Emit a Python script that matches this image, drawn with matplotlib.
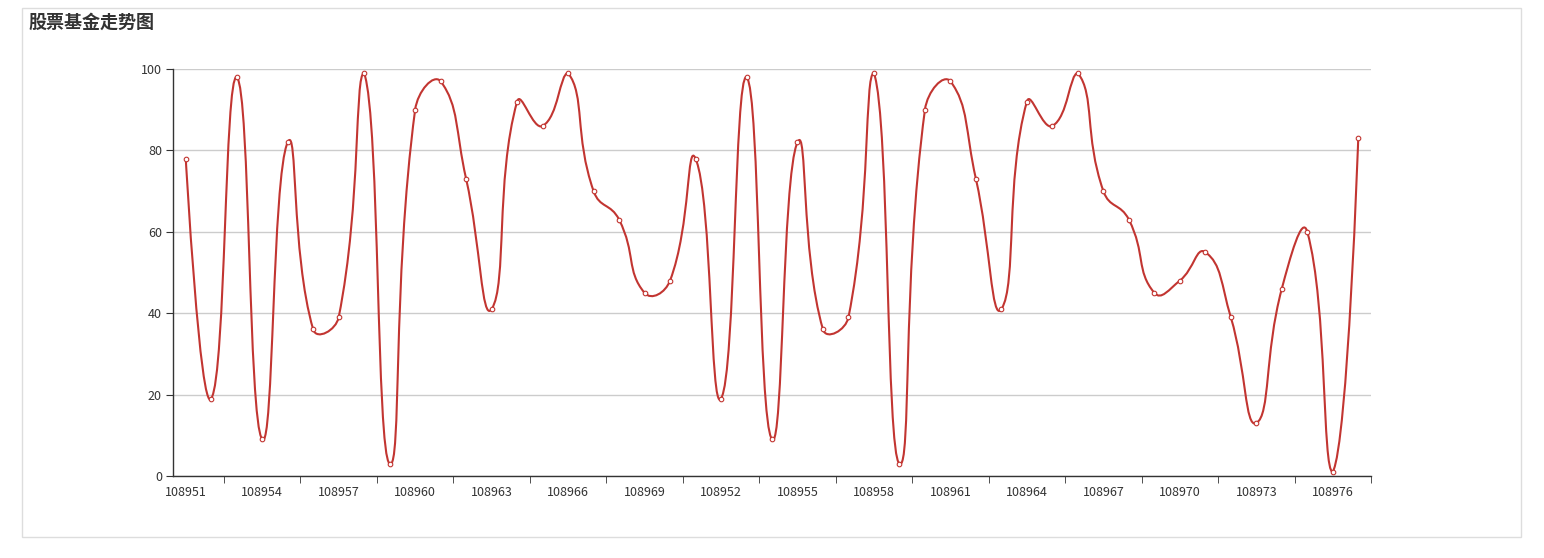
import numpy as np
import matplotlib
matplotlib.use('Agg')
import matplotlib.pyplot as plt
from matplotlib.path import Path
from matplotlib.patches import PathPatch, Rectangle

plt.rcParams['font.family'] = ['Noto Sans CJK SC', 'DejaVu Sans']

title = '股票基金走势图'
categories = ['108951', '108952', '108953', '108954', '108955', '108956', '108957',
              '108958', '108959', '108960', '108961', '108962', '108963', '108964',
              '108965', '108966', '108967', '108968', '108969', '108970',
              '108951', '108952', '108953', '108954', '108955', '108956', '108957',
              '108958', '108959', '108960', '108961', '108962', '108963', '108964',
              '108965', '108966', '108967', '108968', '108969', '108970', '108971',
              '108972', '108973', '108974', '108975', '108976', '108977']
values = [78, 19, 98, 9, 82, 36, 39, 99, 3, 90, 97, 73, 41, 92, 86, 99, 70, 63, 45, 48,
          78, 19, 98, 9, 82, 36, 39, 99, 3, 90, 97, 73, 41, 92, 86, 99, 70, 63, 45, 48,
          55, 39, 13, 46, 60, 1, 83]
yticks = [0, 20, 40, 60, 80, 100]

red = '#c23531'
W, H = 1544, 558
fig = plt.figure(figsize=(W / 100, H / 100), dpi=100)
ax = fig.add_axes([173 / W, 1 - 476 / H, (1371 - 173) / W, (476 - 69) / H])

n = len(values)
x = np.arange(n)
ax.set_xlim(-0.5, n - 0.5)
ax.set_ylim(0, 100)

# smooth line like echarts (bezier control points computed in pixel space)
pts = ax.transData.transform(np.column_stack([x, values]))
lo, hi = pts.min(axis=0), pts.max(axis=0)
cps = [pts[0]]
for i in range(1, n - 1):
    p, a, b = pts[i], pts[i - 1], pts[i + 1]
    v = (b - a) * 0.5
    d0 = np.hypot(*(p - a))
    d1 = np.hypot(*(p - b))
    s = d0 + d1
    cp0 = np.clip(p - v * d0 / s, lo, hi)
    cp1 = np.clip(p + v * d1 / s, lo, hi)
    cps += [cp0, cp1]
cps.append(pts[-1])
verts = [pts[0]]
codes = [Path.MOVETO]
for i in range(n - 1):
    verts += [cps[2 * i], cps[2 * i + 1], pts[i + 1]]
    codes += [Path.CURVE4] * 3
inv = ax.transData.inverted()
path = Path(inv.transform(np.array(verts)), codes)
ax.add_patch(PathPatch(path, facecolor='none', edgecolor=red, lw=1.5,
                       capstyle='round', joinstyle='round', zorder=3))
ax.plot(x, values, linestyle='none', marker='o', ms=3.3, mfc='white', mec=red,
        mew=0.8, zorder=4)

# axes styling
for side in ['top', 'right']:
    ax.spines[side].set_visible(False)
for side in ['left', 'bottom']:
    ax.spines[side].set_color('#333333')
    ax.spines[side].set_linewidth(1)
ax.set_yticks(yticks)
ax.grid(axis='y', color='#cccccc', lw=1)
ax.set_axisbelow(True)
ax.tick_params(axis='y', length=5, color='#333333', labelcolor='#333333',
               labelsize=9, pad=3)

ax.set_xticks(x[::3])
ax.set_xticklabels(categories[::3])
ax.tick_params(axis='x', which='major', length=0, labelcolor='#333333',
               labelsize=9, pad=7)
ax.set_xticks(np.append(np.arange(1.5, n - 1, 3), n - 0.5), minor=True)
ax.tick_params(axis='x', which='minor', length=5, color='#333333')

fig.text(28 / W, 1 - 22 / H, title, fontsize=13, fontweight='bold',
         color='#333333', va='center', ha='left')
fig.patches.append(Rectangle((22 / W, 1 - 537 / H), (1521 - 22) / W, (537 - 8) / H,
                             transform=fig.transFigure, fill=False,
                             edgecolor='#dddddd', lw=1))

fig.savefig('out.png', dpi=100)
